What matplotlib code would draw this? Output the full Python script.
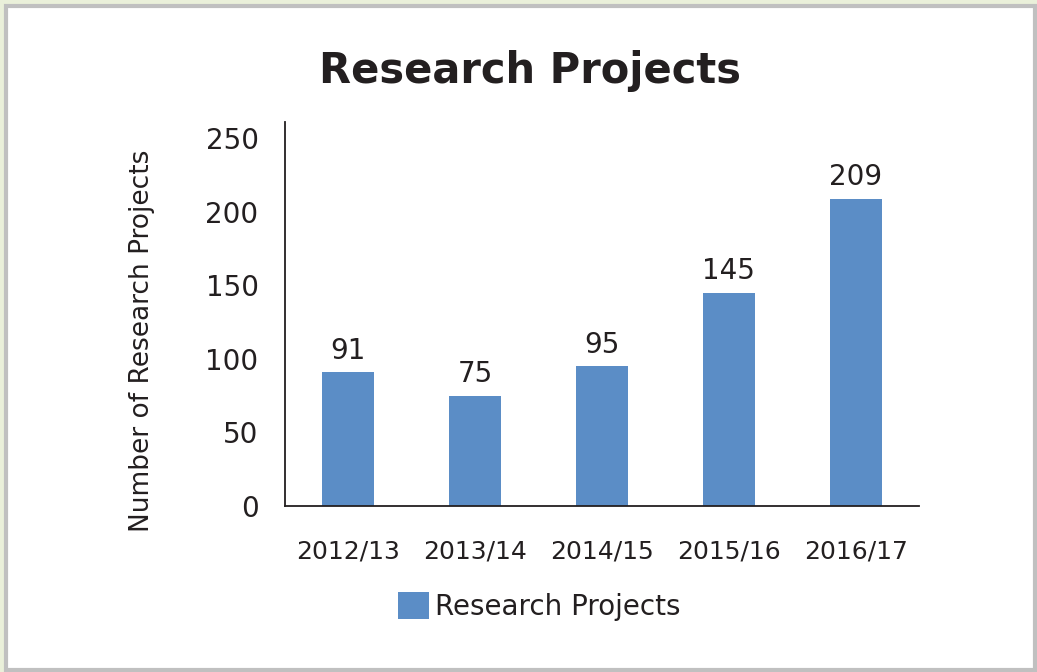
import matplotlib.pyplot as plt
from matplotlib.patches import Rectangle

years = ['2012/13', '2013/14', '2014/15', '2015/16', '2016/17']
projects = [91, 75, 95, 145, 209]
y_ticks = [0, 50, 100, 150, 200, 250]

bar_color = '#5B8DC6'
text_color = '#231F20'

plt.rcParams['font.family'] = 'DejaVu Sans'
fig = plt.figure(figsize=(10.37, 6.72), dpi=100, facecolor='#EAF0DA')

# white panel with grey border
fig.patches.append(Rectangle((5.5 / 1037, 2.5 / 672), 1029 / 1037, 664 / 672,
                             transform=fig.transFigure, facecolor='white',
                             edgecolor='#C0C0C0', linewidth=3, zorder=-5))

ax = fig.add_axes([285 / 1037, 166 / 672, 634 / 1037, 384 / 672])
ax.set_facecolor('none')
x = range(len(years))
bars = ax.bar(x, projects, width=0.41, color=bar_color, label='Research Projects')

for xi, v in zip(x, projects):
    ax.text(xi, v + 5, str(v), ha='center', va='bottom', fontsize=20, color=text_color)

ax.set_xlim(-0.5, 4.5)
ax.set_ylim(0, 261)
ax.set_yticks(y_ticks)
ax.set_xticks(list(x))
ax.set_xticklabels(years)
ax.tick_params(axis='y', length=0, pad=19, labelsize=20, labelcolor=text_color)
ax.tick_params(axis='x', length=0, pad=24, labelsize=18, labelcolor=text_color)
for s in ['top', 'right']:
    ax.spines[s].set_visible(False)
for s in ['left', 'bottom']:
    ax.spines[s].set_color('#231F20')
    ax.spines[s].set_linewidth(1.3)

ax.set_ylabel('Number of Research Projects', fontsize=19, color=text_color)
ax.yaxis.set_label_coords(-0.226, 0.43)
ax.yaxis.label.set_va('center')

fig.text(0.511, 0.895, 'Research Projects', ha='center', va='center',
         fontsize=30, fontweight='bold', color=text_color)

fig.legend(handles=[bars], loc='center', bbox_to_anchor=(0.52, 0.097),
           frameon=False, fontsize=20, handlelength=1.1, handleheight=1.1,
           handletextpad=0.2, labelcolor=text_color)

fig.savefig('out.png', dpi=100, facecolor=fig.get_facecolor())
